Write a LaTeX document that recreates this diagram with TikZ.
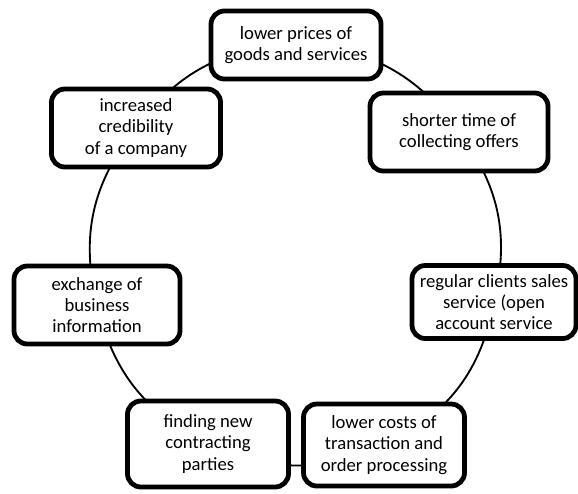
\documentclass[tikz,border=0pt]{standalone}
\usepackage{fontspec}
\setmainfont{Carlito}
\usetikzlibrary{backgrounds}
\begin{document}
\begin{tikzpicture}[x=0.75pt,y=-0.75pt,
  item/.style={draw=black, line width=3.6pt, rounded corners=10pt, fill=white,
    align=center, inner sep=0pt, font=\fontsize{14}{16}\selectfont},
  link/.style={draw=black, line width=1.4pt}]
  \useasboundingbox (0,0) rectangle (578,493);
  % benefit boxes placed around the cycle
  \node[item, minimum width=170pt*0.75, minimum height=68pt*0.75] (prices) at (296,45)
    {lower prices of\\goods and services};
  \node[item, minimum width=178pt*0.75, minimum height=78pt*0.75] (offers) at (459,132)
    {shorter time of\\collecting offers};
  \node[item, minimum width=169pt*0.75, minimum height=78pt*0.75] (credit) at (136,128)
    {increased\\credibility\\of a company};
  \node[item, minimum width=166pt*0.75, minimum height=78pt*0.75] (exchange) at (97,305)
    {exchange of\\business\\information};
  \node[item, minimum width=164pt*0.75, minimum height=73pt*0.75] (clients) at (494,302)
    {regular clients sales\\service (open\\account service};
  \node[item, minimum width=161pt*0.75, minimum height=86pt*0.75] (parties) at (208,444)
    {finding new\\contracting\\parties};
  \node[item, minimum width=161pt*0.75, minimum height=82pt*0.75] (costs) at (384,445)
    {lower costs of\\transaction and\\order processing};
  % circular connectors behind the boxes
  \begin{scope}[on background layer]
    \draw[link] (prices.center) to[bend left=26] (offers.center);
    \draw[link] (offers.center) to[bend left=25] (clients.center);
    \draw[link] (clients.center) to[bend left=27] (costs.center);
    \draw[link] (costs.center) to[bend left=24] (parties.center);
    \draw[link] (parties.center) to[bend left=25] (exchange.center);
    \draw[link] (exchange.center) to[bend left=26] (credit.center);
    \draw[link] (credit.center) to[bend left=26] (prices.center);
  \end{scope}
\end{tikzpicture}
\end{document}
